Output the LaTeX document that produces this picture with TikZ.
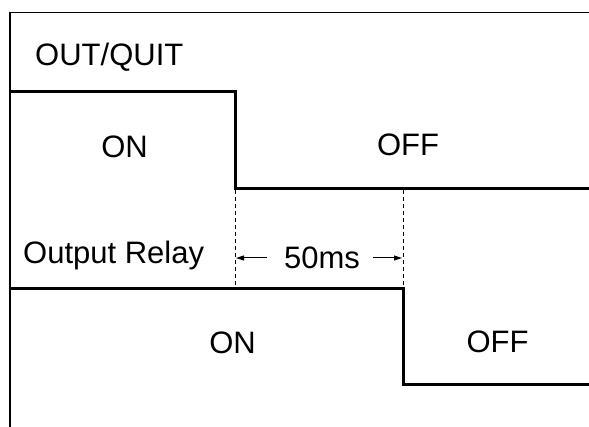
\documentclass[tikz,border=0pt]{standalone}
\usepackage{fontspec}
\setmainfont{Liberation Sans}
\usetikzlibrary{arrows.meta}
\begin{document}
\begin{tikzpicture}[x=1pt,y=-1pt,
  frameline/.style={line width=1.4pt,black},
  signal/.style={line width=3pt,black,line join=miter},
  guide/.style={line width=0.9pt,black,dash pattern=on 4pt off 3pt},
  delay/.style={line width=1pt,-{Triangle[length=8pt,width=5pt]}},
  lbl/.style={inner sep=0pt,font=\fontsize{31}{33}\selectfont}]
\useasboundingbox (0,0) rectangle (589,427);
% frame
\coordinate (ftl) at (10,12.5);
\coordinate (fbl) at (10,427);
\coordinate (ftr) at (589,12.5);
\draw[frameline] (fbl) -- (ftl) -- (ftr);
% OUT/QUIT signal
\coordinate (a0) at (10,91.5);
\coordinate (a1) at (235,91.5);
\coordinate (a2) at (235,188.5);
\coordinate (a3) at (589,188.5);
\draw[signal] (a0) -- (a1) -- (a2) -- (a3);
% Output relay signal
\coordinate (b0) at (10,288.5);
\coordinate (b1) at (403,288.5);
\coordinate (b2) at (403,385);
\coordinate (b3) at (589,385);
\draw[signal] (b0) -- (b1) -- (b2) -- (b3);
% guides
\coordinate (g1) at (235,190);
\coordinate (g1b) at (235,288);
\coordinate (g2) at (403,190);
\draw[guide] (g1) -- (g1b);
\draw[guide] (g2) -- (b1);
% labels
\node[lbl,anchor=base west] (outquit) at (35,65.5) {OUT/QUIT};
\node[lbl] (on1) at (124.5,147) {ON};
\node[lbl] (off1) at (408,145) {OFF};
\node[lbl,anchor=base west] (relay) at (23,263.5) {Output Relay};
\node[lbl] (ms) at (322,258) {50ms};
\node[lbl] (on2) at (232.5,343) {ON};
\node[lbl] (off2) at (497.5,342) {OFF};
% delay arrows
\coordinate (t1) at (236,258);
\coordinate (t2) at (402,258);
\draw[delay] ([xshift=-17pt]ms.west) -- (t1);
\draw[delay] ([xshift=13pt]ms.east) -- (t2);
\end{tikzpicture}
\end{document}
